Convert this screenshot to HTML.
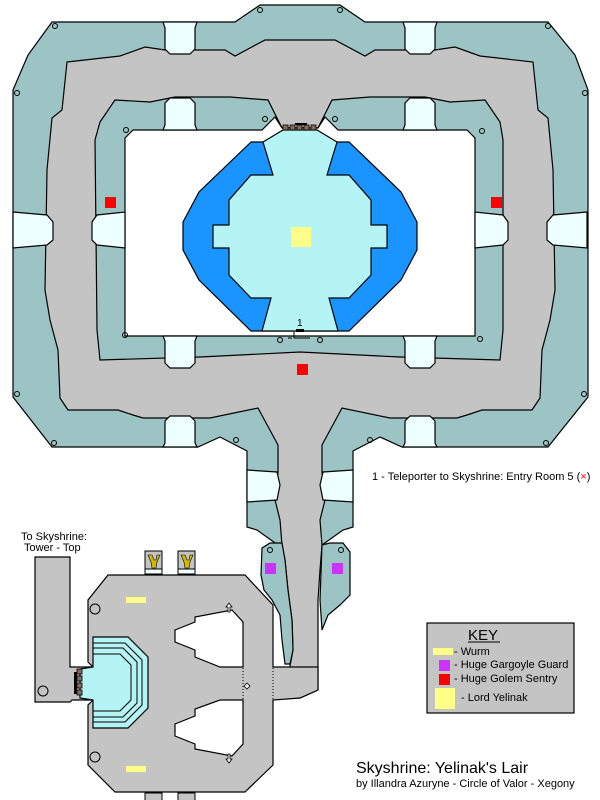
<!DOCTYPE html>
<html><head><meta charset="utf-8"><style>
html,body{margin:0;padding:0;background:#fff;width:600px;height:800px;overflow:hidden}
svg{display:block}
text{font-family:"Liberation Sans",sans-serif}
</style></head><body>
<svg width="600" height="800" viewBox="0 0 600 800" xmlns="http://www.w3.org/2000/svg">
<g stroke="#000" stroke-width="1.2" stroke-linejoin="miter">
<polygon fill="#9cc4c4" points="13,90 28,55 52,22 235,22 260,5 340,5 365,22 548,22 575,55 588,90 588,397 548,447 402,447 380,437 353,451 353,527 343,530 322,545 278,545 257,530 247,527 247,451 220,437 198,447 52,447 13,397"/>
<polygon fill="#c4c4c4" points="67,62 120,56 145,47 165,50 225,50 235,56 265,40 335,40 365,56 375,50 435,50 455,47 480,56 533,62 538,110 548,118 553,170 555,290 550,320 542,350 540,398 532,410 482,410 467,415 457,418 390,418 342,408 322,445 322,472 325,500 320,520 322,545 320,570 318,600 318,690 300,698 290,666 293,650 292,620 288,590 285,560 282,545 280,520 275,500 278,472 278,445 258,408 210,418 143,418 133,415 118,410 68,410 60,398 58,350 50,320 45,290 47,170 52,118 62,110"/>
<polygon fill="#9cc4c4" points="115,100 150,102 175,97 230,97 268,100 282,128 318,128 332,100 370,97 425,97 450,102 485,100 500,122 503,140 503,330 500,360 400,357 300,352 200,357 100,360 97,330 95,140 100,122"/>
<polygon fill="#fff" points="125,138 133,130 262,130 275,117 282,128 318,128 325,117 338,130 467,130 475,138 475,336 125,336"/>
</g>
<rect x="283" y="118" width="34" height="9" fill="#c4c4c4"/>
<g stroke="#000" stroke-width="1.2" fill="#9cc4c4">
<polygon points="262,548 270,543 282,543 285,560 288,590 292,620 293,650 290,664 285,664 282,640 280,615 272,600 264,590 261,575"/>
<polygon points="322,545 330,543 343,543 350,552 350,595 340,605 328,615 322,630 320,600"/>
</g>
<g fill="#eeffff" stroke="#000" stroke-width="1.2">
<polygon points="163,22 197,22 195,28 195,49 190,54 170,54 165,49 165,28"/>
<polygon points="403,22 437,22 435,28 435,49 430,54 410,54 405,49 405,28"/>
<polygon points="170,98 190,98 195,103 195,125 197,130 163,130 165,125 165,103"/>
<polygon points="410,98 430,98 435,103 435,125 437,130 403,130 405,125 405,103"/>
<polygon points="13,212 47,215 53,222 53,240 47,245 13,248"/>
<polygon points="125,212 125,248 97,245 92,240 92,222 97,215"/>
<polygon points="587,212 553,215 547,222 547,240 553,245 587,248"/>
<polygon points="475,212 475,248 503,245 508,240 508,222 503,215"/>
<polygon points="163,336 197,336 195,341 195,363 190,368 170,368 165,363 165,341"/>
<polygon points="403,336 437,336 435,341 435,363 430,368 410,368 405,363 405,341"/>
<polygon points="170,416 190,416 195,421 195,443 197,447 163,447 165,443 165,421"/>
<polygon points="410,416 430,416 435,421 435,443 437,447 403,447 405,443 405,421"/>
<polygon points="247,470 277,472 280,485 277,500 247,502"/>
<polygon points="353,470 323,472 320,485 323,500 353,502"/>
</g>
<g stroke="#000" stroke-width="1.2">
<polygon fill="#1a94ff" points="251,142 199,192 183,222 183,250 199,280 251,331 349,331 401,280 417,250 417,222 401,192 349,142"/>
<polygon fill="#b4f4f4" points="263,142 283,130 317,130 337,142 327,175 349,175 371,200 371,225 387,225 387,248 371,248 371,275 349,298 329,298 338,331 262,331 271,298 251,298 229,275 229,248 213,248 213,225 229,225 229,200 251,175 273,175"/>
</g>
<rect x="291" y="227" width="20" height="20" fill="#ffff88"/>
<g fill="#8a6a5a" stroke="#000" stroke-width="0.8">
<rect x="283" y="125" width="5" height="5"/><rect x="290" y="125" width="5" height="5"/><rect x="297" y="125" width="5" height="5"/><rect x="304" y="125" width="5" height="5"/><rect x="311" y="125" width="5" height="5"/>
</g>
<rect x="295" y="123" width="12" height="2" fill="#000"/>
<text x="297" y="326" font-size="10">1</text>
<rect x="296" y="329" width="8" height="3" fill="#000"/>
<path d="M294 332v6M294 338h16M288 338h4" stroke="#000" fill="none"/>
<g fill="none" stroke="#000" stroke-width="1">
<circle cx="55" cy="26" r="2.5"/><circle cx="260" cy="10" r="2.5"/><circle cx="340" cy="10" r="2.5"/><circle cx="548" cy="26" r="2.5"/>
<circle cx="17" cy="93" r="2.5"/><circle cx="585" cy="93" r="2.5"/><circle cx="17" cy="394" r="2.5"/><circle cx="584" cy="394" r="2.5"/>
<circle cx="54" cy="443" r="2.5"/><circle cx="546" cy="443" r="2.5"/>
<circle cx="126" cy="130" r="2.5"/><circle cx="265" cy="119" r="2.5"/><circle cx="335" cy="119" r="2.5"/><circle cx="482" cy="131" r="2.5"/>
<circle cx="125" cy="335" r="2.5"/><circle cx="280" cy="340" r="2.5"/><circle cx="320" cy="340" r="2.5"/><circle cx="480" cy="339" r="2.5"/>
<circle cx="236" cy="440" r="2.5"/><circle cx="370" cy="440" r="2.5"/>
<circle cx="270" cy="550" r="2.5"/><circle cx="341" cy="550" r="2.5"/>
</g>
<g fill="#ff0000">
<rect x="105" y="197" width="11" height="11"/><rect x="491" y="197" width="11" height="11"/><rect x="297" y="364" width="11" height="11"/><rect x="178" y="677" width="11" height="11"/>
</g>
<g fill="#cc33ff"><rect x="265" y="563" width="11" height="11"/><rect x="332" y="563" width="11" height="11"/></g>
<g stroke="#000" stroke-width="1.2" fill="#c4c4c4">
<polygon points="35,557 70,557 70,667 93,667 93,700 72,700 70,702 35,702"/>
<polygon points="108,575 245,575 273,605 273,667 318,667 318,690 300,698 273,700 273,765 245,792 115,792 88,765 88,705 93,700 93,667 88,662 88,600"/>
</g>
<rect x="71" y="668" width="20" height="31" fill="#c4c4c4"/>
<g fill="#fff" stroke="#000" stroke-width="1.2">
<polygon points="175,630 195,622 195,617 232,610 243,622 243,667 220,667 195,657 195,650 175,642"/>
<polygon points="175,736 195,744 195,749 232,756 243,744 243,700 220,700 195,709 195,716 175,724"/>
</g>
<g stroke="#000" stroke-width="1" stroke-dasharray="1,2"><line x1="243" y1="668" x2="243" y2="700"/><line x1="273" y1="668" x2="273" y2="700"/></g>
<g stroke="#000" stroke-width="1.2">
<polygon fill="#b4f4f4" points="93,637 128,637 148,657 148,708 128,728 93,728 93,700 80,698 80,669 93,667"/>
</g>
<g fill="none" stroke="#000" stroke-width="1">
<polyline points="93,643 125,643 142,660 142,705 125,722 93,722"/>
<polyline points="93,648 123,648 137,662 137,703 123,717 93,717"/>
<polyline points="93,654 120,654 131,665 131,700 120,711 93,711"/>
</g>
<g fill="#8a6a5a" stroke="#000" stroke-width="0.8">
<rect x="77" y="669" width="5" height="5"/><rect x="77" y="676" width="5" height="5"/><rect x="77" y="683" width="5" height="5"/><rect x="77" y="690" width="5" height="5"/>
</g>
<rect x="74" y="672" width="3" height="22" fill="#000"/>
<g fill="none" stroke="#000"><circle cx="95" cy="609" r="5"/><circle cx="95" cy="757" r="5"/><circle cx="43" cy="691" r="5"/></g>
<g fill="#ffff88"><rect x="126" y="597" width="20" height="6"/><rect x="126" y="766" width="20" height="6"/></g>
<g fill="#fff" stroke="#000" stroke-width="0.8"><polygon points="229,603 232,607 230,607 230,612 228,612 228,607 226,607"/><polygon points="229,763 232,759 230,759 230,754 228,754 228,759 226,759"/><polygon points="247,683 250,686 247,689 244,686"/></g>
<g stroke="#000" stroke-width="1">
<rect x="145" y="551" width="17" height="18" fill="#c4c4c4"/><rect x="145" y="569" width="17" height="5" fill="#eeffff"/>
<rect x="178" y="551" width="17" height="18" fill="#c4c4c4"/><rect x="178" y="569" width="17" height="5" fill="#eeffff"/>
<rect x="145" y="793" width="17" height="10" fill="#c4c4c4"/><rect x="178" y="793" width="17" height="10" fill="#c4c4c4"/>
</g>
<g fill="#d4b800" stroke="#000" stroke-width="0.6">
<path d="M148,555 L152,555 L154,560 L156,560 L157,555 L160,555 L157,562 L156,568 L152,568 L151,562 Z"/>
<path d="M181,555 L185,555 L187,560 L189,560 L190,555 L193,555 L190,562 L189,568 L185,568 L184,562 Z"/>
</g>
<rect x="427" y="623" width="147" height="90" fill="#c4c4c4" stroke="#000" stroke-width="1.2"/>
<text x="468" y="640" font-size="15">KEY</text>
<line x1="468" y1="642" x2="500" y2="642" stroke="#000"/>
<rect x="433" y="648" width="20" height="7" fill="#ffff88"/>
<text x="454" y="655" font-size="11">- Wurm</text>
<rect x="439" y="660" width="11" height="11" fill="#cc33ff"/>
<text x="454" y="668" font-size="11">- Huge Gargoyle Guard</text>
<rect x="439" y="674" width="11" height="11" fill="#ff0000"/>
<text x="454" y="682" font-size="11">- Huge Golem Sentry</text>
<rect x="435" y="688" width="20" height="21" fill="#ffff88"/>
<text x="461" y="701" font-size="11">- Lord Yelinak</text>
<text x="372" y="480" font-size="11">1 - Teleporter to Skyshrine: Entry Room 5 (<tspan fill="#ff0000">×</tspan>)</text>
<text x="21" y="540" font-size="11">To Skyshrine:</text>
<text x="24" y="551" font-size="11">Tower - Top</text>
<text x="356" y="773" font-size="16">Skyshrine: Yelinak's Lair</text>
<text x="356" y="787" font-size="11">by Illandra Azuryne - Circle of Valor - Xegony</text>
</svg>
</body></html>
